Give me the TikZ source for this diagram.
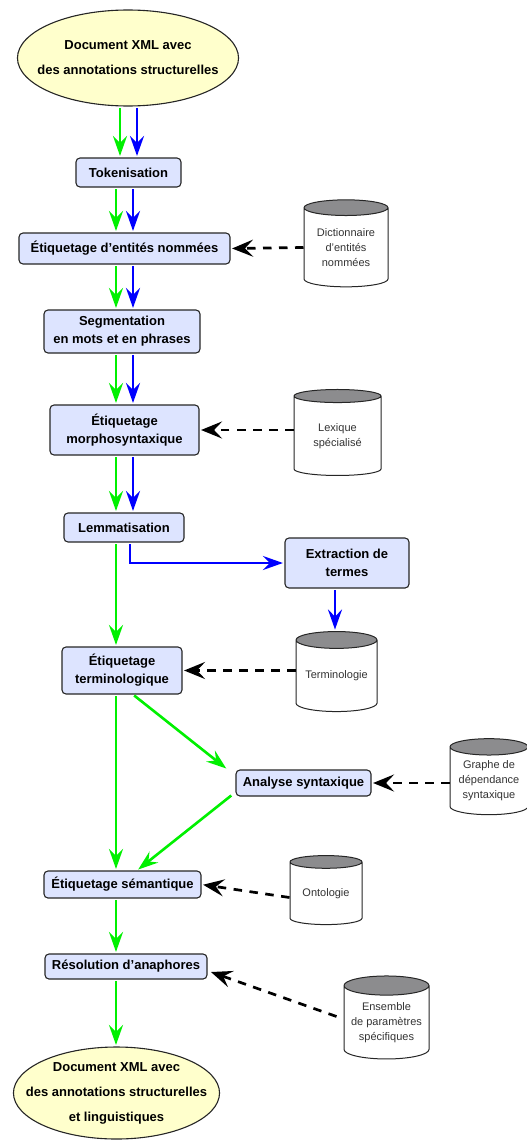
\documentclass[tikz,border=0pt]{standalone}
\usepackage{fontspec}
\setmainfont{Liberation Sans}
\usetikzlibrary{shapes.geometric,arrows.meta,calc}
\definecolor{boxblue}{RGB}{221,228,255}
\definecolor{docyellow}{RGB}{255,255,204}
\definecolor{topgray}{RGB}{140,140,142}
\definecolor{flowgreen}{RGB}{0,240,0}
\definecolor{flowblue}{RGB}{0,0,255}

\begin{document}
\begin{tikzpicture}[x=1pt, y=-1pt,
  etape/.style={draw=black!85, line width=1.1pt, rounded corners=4pt, fill=boxblue,
    align=center, font=\fontsize{13}{18}\selectfont\bfseries, inner sep=0pt},
  docxml/.style={ellipse, draw=black!85, line width=1.1pt, fill=docyellow,
    align=center, font=\fontsize{13}{25}\selectfont\bfseries, inner ysep=0pt},
  ressource/.style={cylinder, shape border rotate=90, aspect=0.27, draw=black!85,
    line width=1pt, cylinder uses custom fill, cylinder end fill=topgray,
    cylinder body fill=white, align=center, font=\fontsize{11}{15}\selectfont,
    text=black!80, inner sep=0pt},
  flotv/.style={flowgreen, line width=2.6pt, shorten <=1.5pt, shorten >=1.5pt,
    -{Stealth[length=20pt,width=14pt,inset=7pt]}},
  flotb/.style={flotv, flowblue},
  appel/.style={black, line width=2.7pt, dash pattern=on 8.5pt off 7.5pt,
    shorten >=1.5pt, -{Stealth[length=21pt,width=17pt,inset=8pt]}}]

  \newcommand\colV{116}
  \newcommand\colB{133}

  \useasboundingbox (0,0) rectangle (527,1140);

  %% chaine de traitement
  \node[docxml, inner xsep=-12.5pt, minimum height=96pt] (doc_in) at (128,58)
    {Document XML avec\\des annotations structurelles};
  \node[etape, minimum width=105pt, minimum height=29pt] (tok) at (128.5,172.5) {Tokenisation};
  \node[etape, minimum width=211pt, minimum height=31pt] (ent) at (124.5,248.5) {Étiquetage d'entités nommées};
  \node[etape, minimum width=156pt, minimum height=43pt] (seg) at (122,331.5) {Segmentation\\en mots et en phrases};
  \node[etape, minimum width=149pt, minimum height=50pt] (morph) at (124.5,430) {Étiquetage\\morphosyntaxique};
  \node[etape, minimum width=120pt, minimum height=29pt] (lem) at (124,527.5) {Lemmatisation};
  \node[etape, minimum width=124pt, minimum height=50pt] (extr) at (347,563) {Extraction de\\termes};
  \node[etape, minimum width=120pt, minimum height=47pt] (term) at (122,670.5) {Étiquetage\\terminologique};
  \node[etape, minimum width=135pt, minimum height=26pt] (synt) at (303.5,783) {Analyse syntaxique};
  \node[etape, minimum width=157pt, minimum height=27pt] (sem) at (122.5,884.5) {Étiquetage sémantique};
  \node[etape, minimum width=162pt, minimum height=25pt] (anaph) at (126,966.5) {Résolution d'anaphores};
  \node[docxml, inner xsep=-17.8pt, minimum height=92pt] (doc_out) at (116.5,1093)
    {Document XML avec\\des annotations structurelles\\et linguistiques};

  %% ressources
  \node[ressource, minimum width=84pt, minimum height=87pt] (dict) at (346,247.5) {Dictionnaire\\d'entités\\nommées};
  \node[ressource, minimum width=87pt, minimum height=86pt] (lex) at (337.5,436) {Lexique\\spécialisé};
  \node[ressource, minimum width=81pt, minimum height=80pt] (termino) at (336.5,676) {Terminologie};
  \node[ressource, minimum width=78pt, minimum height=76pt] (graphe) at (489,781) {Graphe de\\dépendance\\syntaxique};
  \node[ressource, minimum width=72pt, minimum height=69pt] (onto) at (326,893.5) {Ontologie};
  \node[ressource, minimum width=85pt, minimum height=83pt] (ens) at (386.5,1022.5) {Ensemble\\de paramètres\\spécifiques};

  %% flux vert et bleu
  \draw[flotv] (doc_in.south -| 120,0) -- (tok.north -| 120,0);
  \draw[flotb] (doc_in.south -| 137,0) -- (tok.north -| 137,0);
  \foreach \a/\b in {tok/ent, ent/seg, seg/morph, morph/lem} {
    \draw[flotv] (\a.south -| \colV,0) -- (\b.north -| \colV,0);
    \draw[flotb] (\a.south -| \colB,0) -- (\b.north -| \colB,0);
  }
  \draw[flotv] (lem.south -| \colV,0) -- (term.north -| \colV,0);
  \draw[flotb] (lem.south -| 130,0) |- (extr.west);
  \draw[flotb] (extr.south -| 335,0) -- (termino.north -| 335,0);
  \draw[flotv] (term.south -| \colV,0) -- (sem.north -| \colV,0);
  \draw[flotv] (term.south -| \colB,0) -- ($(synt.north west)+(-8,0)$);
  \draw[flotv] ($(synt.south west)+(-3,-2)$) -- (sem.north -| 137,0);
  \draw[flotv] (sem.south -| \colV,0) -- (anaph.north -| \colV,0);
  \draw[flotv] (anaph.south -| \colV,0) -- (doc_out.north -| \colV,0);

  %% appels aux ressources
  \draw[appel] (dict.west) -- (ent.east);
  \draw[appel] (lex.west |- morph.east) -- (morph.east);
  \draw[appel] (termino.west |- term.east) -- (term.east);
  \draw[appel] (graphe.west |- synt.east) -- (synt.east);
  \draw[appel] ([yshift=-4pt]onto.west) -- (sem.east);
  \draw[appel] ($(ens.west)+(-7,-6)$) -- ($(anaph.east)+(2,5)$);
\end{tikzpicture}
\end{document}
